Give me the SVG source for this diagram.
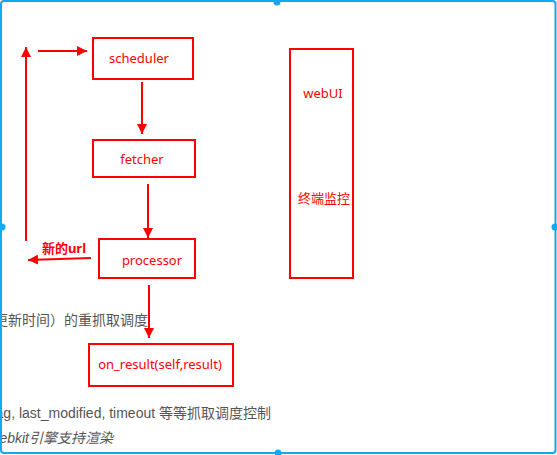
<svg xmlns="http://www.w3.org/2000/svg" width="557" height="455" viewBox="0 0 557 455">
<defs>
<marker id="ah" markerWidth="10" markerHeight="10" refX="10" refY="5" orient="auto" markerUnits="userSpaceOnUse">
<path d="M0,0 L10,5 L0,10 Z" fill="#ff0000"/>
</marker>
</defs>
<style>
.box{fill:#ffffff;stroke:#ff0000;stroke-width:2}
.lbl{font-family:"Noto Sans","Noto Sans CJK SC",sans-serif;font-size:13px;fill:#ff0000;text-anchor:middle}
.con{stroke:#ff0000;stroke-width:2;fill:none;marker-end:url(#ah)}
.gray{font-family:"Liberation Sans","Noto Sans CJK SC",sans-serif;font-size:14px;fill:#555555;text-anchor:end}
.sel{fill:none;stroke:#12a9f2;stroke-width:2}
.hdl{fill:#12a9f2}
</style>
<rect x="0" y="0" width="557" height="455" fill="#ffffff"/>
<g id="bg-text">
<text class="gray" x="148" y="325">更新时间）的重抓取调度</text>
<text class="gray" x="271" y="418">ag, last_modified, timeout 等等抓取调度控制</text>
<text class="gray" x="113" y="443" font-style="italic">ebkit引擎支持渲染</text>
</g>
<g id="connectors">
<path class="con" d="M142,82 L142,134"/>
<path class="con" d="M148,184 L148,238"/>
<path class="con" d="M149,285 L149,338"/>
<path class="con" d="M91,258 L28,260"/>
<path class="con" d="M26,241 L26,47"/>
<path class="con" d="M38,51 L87,51"/>
<text class="lbl" x="64" y="253" font-weight="bold">新的url</text>
</g>
<g id="scheduler">
<rect class="box" x="93" y="38" width="100" height="41"/>
<text class="lbl" x="139" y="63">scheduler</text>
</g>
<g id="fetcher">
<rect class="box" x="93" y="140" width="102" height="37"/>
<text class="lbl" x="142" y="164">fetcher</text>
</g>
<g id="processor">
<rect class="box" x="99" y="239" width="96" height="39"/>
<text class="lbl" x="152" y="265">processor</text>
</g>
<g id="on_result">
<rect class="box" x="89" y="344" width="144" height="42"/>
<text class="lbl" x="160" y="369">on_result(self,result)</text>
</g>
<g id="webui">
<rect class="box" x="290" y="49" width="63" height="229"/>
<text class="lbl" x="323" y="98">webUI</text>
<text class="lbl" x="324" y="203">终端监控</text>
</g>
<g id="selection">
<rect class="sel" x="1" y="1" width="554.5" height="452" rx="3"/>
<circle class="hdl" cx="277" cy="2" r="3.5"/>
<circle class="hdl" cx="2" cy="227" r="3.5"/>
<circle class="hdl" cx="555" cy="227" r="3.5"/>
<circle class="hdl" cx="278" cy="453" r="3.5"/>
</g>
</svg>
